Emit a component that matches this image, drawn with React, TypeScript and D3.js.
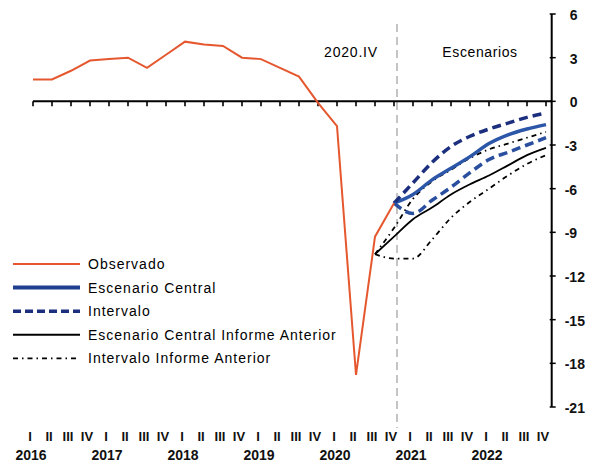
import React from "react";
import * as d3 from "d3";

const years = ["2016", "2017", "2018", "2019", "2020", "2021", "2022"];
const romans = ["I", "II", "III", "IV"];
const yTicks = [6, 3, 0, -3, -6, -9, -12, -15, -18, -21];

// Observado: 2016.I .. 2020.IV
const observed = [1.5, 1.5, 2.1, 2.8, 2.9, 3.0, 2.3, 3.2, 4.1, 3.9, 3.8, 3.0, 2.9, 2.3, 1.7, -0.1, -1.7, -18.8, -9.3, -7.0];
// Escenarios: 2020.IV .. 2022.IV
const central = [-7.0, -6.4, -5.4, -4.6, -3.8, -2.9, -2.3, -1.9, -1.6];
const upper = [-7.0, -5.6, -4.2, -3.1, -2.4, -1.9, -1.5, -1.1, -0.8];
const lower = [-7.0, -7.7, -6.8, -5.9, -4.9, -4.0, -3.5, -3.0, -2.5];
// Informe anterior: 2020.III .. 2022.IV
const prevCentral = [-10.5, -9.3, -8.1, -7.3, -6.4, -5.7, -5.1, -4.4, -3.7, -3.2];
const prevUpper = [-10.5, -8.7, -6.7, -5.5, -4.7, -3.9, -3.3, -2.9, -2.5, -2.1];
const prevLower = [-10.5, -10.8, -10.8, -9.5, -8.0, -6.9, -6.0, -5.1, -4.3, -3.7];

const legendItems = [
  { label: "Observado", color: "#e5582f", width: 2, dash: "" },
  { label: "Escenario Central", color: "#203f8f", width: 4, dash: "" },
  { label: "Intervalo", color: "#1c2f7e", width: 3.5, dash: "8,4" },
  { label: "Escenario Central Informe Anterior", color: "#000", width: 2, dash: "" },
  { label: "Intervalo Informe Anterior", color: "#000", width: 1.8, dash: "5,4,1.5,4" },
];

const W = 597;
const H = 464;
const FONT = "'Liberation Sans', Arial, sans-serif";
const NARROW = "'Liberation Sans Narrow', 'Arial Narrow', 'Liberation Sans', sans-serif";

export default function App() {
  const nQ = years.length * 4;
  const x = d3.scaleLinear().domain([0, nQ - 1]).range([33, 546]);
  const y = d3.scaleLinear().domain([-21, 6]).range([407, 14]);
  const axisX = x(nQ - 1 + 0.3);

  const lin = d3
    .line<[number, number]>()
    .x((d) => x(d[0]))
    .y((d) => y(d[1]));
  const smooth = d3
    .line<[number, number]>()
    .x((d) => x(d[0]))
    .y((d) => y(d[1]))
    .curve(d3.curveMonotoneX);

  const toPts = (arr: number[], start: number) => arr.map((v, i) => [start + i, v] as [number, number]);
  const scenStart = observed.length - 1;
  const prevStart = observed.length - 2;

  const quarters: { idx: number; label: string }[] = [];
  for (let i = 0; i < nQ; i++) quarters.push({ idx: i, label: romans[i % 4] });

  return (
    <svg width={W} height={H} style={{ position: "absolute", left: 0, top: 0, background: "#fff" }}>
      {/* vertical dashed line at 2020.IV */}
      <line x1={x(scenStart) + 3} x2={x(scenStart) + 3} y1={24} y2={428} stroke="#c4c4c4" strokeWidth={2} strokeDasharray="8,5" />

      {/* zero line with quarter ticks */}
      <line x1={x(0)} x2={axisX} y1={y(0)} y2={y(0)} stroke="#000" strokeWidth={2} />
      {quarters.map((q) => (
        <line key={"zt" + q.idx} x1={x(q.idx)} x2={x(q.idx)} y1={y(0)} y2={y(0) + 5} stroke="#000" strokeWidth={1.6} />
      ))}

      {/* right y axis */}
      <line x1={axisX} x2={axisX} y1={y(6)} y2={y(-21)} stroke="#000" strokeWidth={2} />
      {yTicks.map((t) => (
        <g key={"yt" + t}>
          <line x1={axisX - 2} x2={axisX + 4} y1={y(t)} y2={y(t)} stroke="#000" strokeWidth={1.5} />
          <text x={axisX + 14} y={y(t) + 6} fontFamily={FONT} fontSize={14} fontWeight="bold" fill="#111" textAnchor="start" dx={t < 0 ? -1 : 4}>
            {t < 0 ? "-" + Math.abs(t) : String(t)}
          </text>
        </g>
      ))}

      {/* previous report interval */}
      <path d={smooth(toPts(prevUpper, prevStart)) || ""} fill="none" stroke="#000" strokeWidth={1.8} strokeDasharray="5,4,1.5,4" />
      <path d={smooth(toPts(prevLower, prevStart)) || ""} fill="none" stroke="#000" strokeWidth={1.8} strokeDasharray="5,4,1.5,4" />
      <path d={smooth(toPts(prevCentral, prevStart)) || ""} fill="none" stroke="#000" strokeWidth={1.8} />

      {/* current scenarios */}
      <path d={smooth(toPts(central, scenStart)) || ""} fill="none" stroke="#2c56a8" strokeWidth={3.5} />
      <path d={smooth(toPts(upper, scenStart)) || ""} fill="none" stroke="#1c2f7e" strokeWidth={3.5} strokeDasharray="9,5" />
      <path d={smooth(toPts(lower, scenStart)) || ""} fill="none" stroke="#2a4f9f" strokeWidth={3.5} strokeDasharray="9,5" />

      {/* observed */}
      <path d={lin(toPts(observed, 0)) || ""} fill="none" stroke="#e5582f" strokeWidth={2} />

      {/* annotations */}
      <text x={351} y={57} textAnchor="middle" fontFamily={FONT} fontSize={14} fill="#000" letterSpacing={0.8}>2020.IV</text>
      <text x={480} y={57} textAnchor="middle" fontFamily={FONT} fontSize={14} fill="#000" letterSpacing={0.6}>Escenarios</text>

      {/* legend */}
      {legendItems.map((it, i) => (
        <g key={"lg" + i}>
          <line x1={13} x2={80} y1={264 + i * 23.6} y2={264 + i * 23.6} stroke={it.color} strokeWidth={it.width} strokeDasharray={it.dash} />
          <text x={88} y={269 + i * 23.6} fontFamily={FONT} fontSize={14} fill="#000" letterSpacing={1}>
            {it.label}
          </text>
        </g>
      ))}

      {/* x-axis labels */}
      {quarters.map((q) => (
        <text key={"ql" + q.idx} x={x(q.idx) - 3} y={441} textAnchor="middle" fontFamily={NARROW} fontSize={13} fontWeight="bold" fill="#111">
          {q.label}
        </text>
      ))}
      {years.map((yr, i) => (
        <text key={"yr" + yr} x={x(i * 4) - 2} y={460} textAnchor="middle" fontFamily={FONT} fontSize={14} fontWeight="bold" fill="#111">
          {yr}
        </text>
      ))}
    </svg>
  );
}
